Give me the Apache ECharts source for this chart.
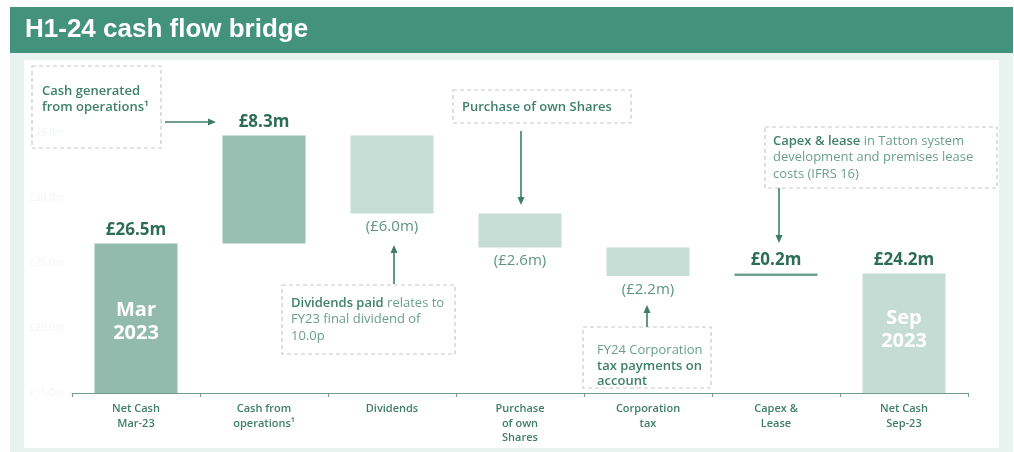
<!DOCTYPE html>
<html>
<head>
<meta charset="utf-8">
<script src="https://cdn.jsdelivr.net/npm/echarts@6/dist/echarts.min.js"></script>
<style>
  html, body { margin: 0; padding: 0; background: #fff; }
  #chart { width: 1014px; height: 452px; }
</style>
</head>
<body>
<div id="chart"></div>
<script>
// data
const categories = ['Net Cash\nMar-23', 'Cash from\noperations¹', 'Dividends', 'Purchase\nof own\nShares', 'Corporation\ntax', 'Capex &\nLease', 'Net Cash\nSep-23']
const openingCash = 26.5
const flows = [8.3, -6.0, -2.6, -2.2, 0.2]
const closingCash = 24.2
const totalTags = ['Mar\n2023', 'Sep\n2023']
const yTicks = { min: 15, max: 35, step: 5 }

// colours per column
const barColours = ['#92bbad', '#96bfb1', '#c5ddd5', '#c5ddd5', '#c5ddd5', '#6f9f90', '#c4dcd4']

const FONT = '"Open Sans", "DejaVu Sans", sans-serif'
const money = (v) => '£' + Math.abs(v).toFixed(1) + 'm'

const boldLabel = (pos) => ({
  show: true, position: pos, distance: 5,
  color: '#2e6c58', fontSize: 17, fontWeight: 'bold', fontFamily: FONT
})
const negLabel = {
  show: true, position: 'bottom', distance: 6,
  color: '#5f9484', fontSize: 15, fontFamily: FONT
}

// build waterfall
const base = [0]
const step = [{ value: openingCash, itemStyle: { color: barColours[0] }, label: { ...boldLabel('top'), formatter: money(openingCash) } }]
let running = openingCash
flows.forEach((f, i) => {
  const col = barColours[i + 1]
  base.push(f >= 0 ? running : running + f)
  step.push({
    value: Math.abs(f),
    itemStyle: { color: col },
    label: f >= 0 ? { ...boldLabel('top'), formatter: money(f) } : { ...negLabel, formatter: '(' + money(f) + ')' }
  })
  running += f
})
base.push(0)
step.push({ value: closingCash, itemStyle: { color: barColours[6] }, label: { ...boldLabel('top'), formatter: money(closingCash) } })

const tagData = categories.map(() => '-')
tagData[0] = { value: openingCash, label: { formatter: totalTags[0], offset: [0, 4] } }
tagData[categories.length - 1] = { value: closingCash, label: { formatter: totalTags[1], offset: [0, -3] } }

// annotation helpers
const dashBox = (x, y, w, h) => ({
  type: 'rect', shape: { x, y, width: w, height: h },
  style: { fill: 'none', stroke: '#c6cbc9', lineWidth: 1.2, lineDash: [4, 3] }, z: 1
})
const rich = {
  b: { fontFamily: FONT, fontSize: 13, fontWeight: 600, fill: '#3f806c', color: '#3f806c' },
  r: { fontFamily: FONT, fontSize: 13, fill: '#6a9f8f', color: '#6a9f8f' }
}
const note = (x, y, text, lh) => ({
  type: 'text', x, y, z: 1,
  style: { text, rich: Object.fromEntries(Object.entries(rich).map(([k, v]) => [k, { ...v, lineHeight: lh }])), font: '13px ' + FONT, verticalAlign: 'top', lineHeight: lh }
})
const arrow = (x1, y1, x2, y2) => {
  const dx = Math.sign(x2 - x1), dy = Math.sign(y2 - y1)
  const hx = x2 - dx * 8, hy = y2 - dy * 8
  return [
    { type: 'line', shape: { x1, y1, x2: hx, y2: hy }, style: { stroke: '#3f7d6a', lineWidth: 1.6 }, z: 1 },
    { type: 'polygon', shape: { points: dx ? [[x2, y2], [hx, hy - 3.5], [hx, hy + 3.5]] : [[x2, y2], [hx - 3.5, hy], [hx + 3.5, hy]] }, style: { fill: '#3f7d6a' }, z: 1 }
  ]
}

const chart = echarts.init(document.getElementById('chart'))
chart.setOption({
  animation: false,
  title: {
    text: 'H1-24 cash flow bridge', left: 25, top: 17, padding: 0,
    textStyle: { color: '#ffffff', fontSize: 26, fontWeight: 'bold', fontFamily: '"Liberation Sans", Arial, sans-serif' }
  },
  grid: { left: 72, right: 46, top: 133, bottom: 59 },
  xAxis: {
    type: 'category',
    data: categories,
    axisLine: { lineStyle: { color: '#6f9c8e', width: 1.2 } },
    axisTick: { show: true, length: 4, lineStyle: { color: '#6f9c8e' } },
    axisLabel: { color: '#3e7d69', fontSize: 11, fontWeight: 600, fontFamily: FONT, lineHeight: 14.5, margin: 9, interval: 0 }
  },
  yAxis: {
    type: 'value', min: yTicks.min, max: yTicks.max, interval: yTicks.step,
    axisLine: { show: false }, axisTick: { show: false }, splitLine: { show: false },
    axisLabel: { color: '#f2f5f4', fontSize: 10, fontFamily: FONT, formatter: (v) => '£' + v.toFixed(1) + 'm' }
  },
  series: [
    {
      name: 'base', type: 'bar', stack: 'wf', barWidth: 83, barGap: '-100%',
      itemStyle: { color: 'transparent' }, data: base, silent: true
    },
    {
      name: 'flow', type: 'bar', stack: 'wf', barWidth: 83, barGap: '-100%', data: step
    },
    {
      name: 'tags', type: 'bar', barWidth: 83, barGap: '-100%', z: 5,
      itemStyle: { color: 'transparent' },
      label: { show: true, position: 'inside', color: '#ffffff', fontSize: 20, fontWeight: 'bold', fontFamily: FONT, lineHeight: 23 },
      data: tagData
    }
  ],
  graphic: [
    { type: 'rect', shape: { x: 10, y: 7, width: 1003, height: 46 }, style: { fill: '#43927b' }, z: -10 },
    { type: 'rect', shape: { x: 10, y: 53, width: 1003, height: 399 }, style: { fill: '#e8f2ee' }, z: -10 },
    { type: 'rect', shape: { x: 24, y: 60, width: 975, height: 388 }, style: { fill: '#ffffff' }, z: -9 },

    dashBox(32, 66, 129, 82),
    note(42, 83, '{b|Cash generated}\n{b|from operations¹}', 16),
    ...arrow(165, 122, 216, 122),

    dashBox(282, 285, 173, 69),
    note(291, 295, '{b|Dividends paid}{r| relates to}\n{r|FY23 final dividend of}\n{r|10.0p}', 16.5),
    ...arrow(394, 284, 394, 245),

    dashBox(453, 90, 178, 33),
    note(462, 99, '{b|Purchase of own Shares}', 16),
    ...arrow(521, 131, 521, 205),

    dashBox(583, 327, 128, 61),
    note(597, 343, '{r|FY24 Corporation}\n{b|tax payments on}\n{b|account}', 15.5),
    ...arrow(647, 327, 647, 305),

    dashBox(765, 127, 232, 61),
    note(773, 133, '{b|Capex & lease}{r| in Tatton system}\n{r|development and premises lease}\n{r|costs (IFRS 16)}', 16.5),
    ...arrow(779, 188, 779, 243)
  ]
})
</script>
</body>
</html>
